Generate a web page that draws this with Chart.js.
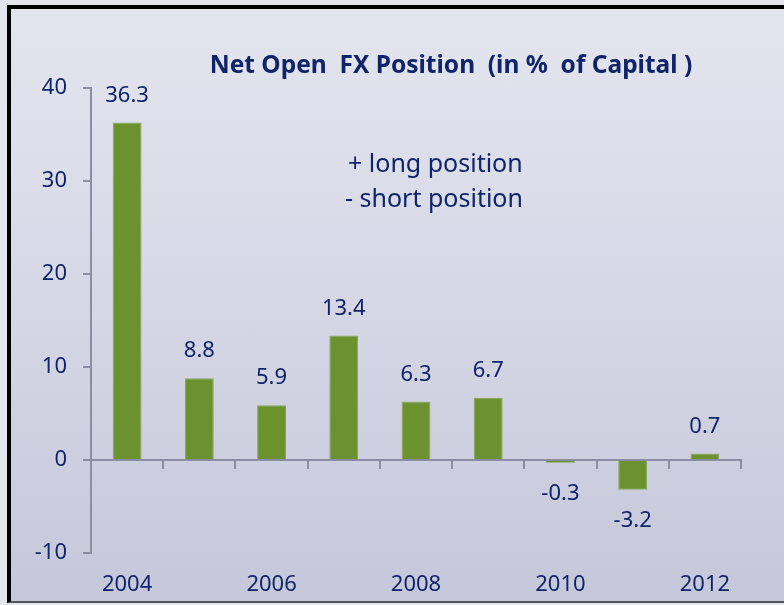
<!DOCTYPE html>
<html>
<head>
<meta charset="utf-8">
<script src="https://cdn.jsdelivr.net/npm/chart.js@4"></script>
<style>
  html, body { margin: 0; padding: 0; background: #e4e5ec; }
  #frame {
    position: absolute; left: 7px; top: 5px; width: 777px; height: 598px;
    border-left: 4px solid #000; border-top: 4px solid #000; border-bottom: 2px solid #555;
    background: linear-gradient(to bottom, #e3e5ee 0%, #d5d7e5 50%, #c5c8da 100%);
    box-sizing: border-box;
  }
  #myChart { position: absolute; left: 0; top: 0; }
</style>
</head>
<body>
<div id="frame"></div>
<canvas id="myChart" width="784" height="605"></canvas>
<script>
const years = ['2004', '2005', '2006', '2007', '2008', '2009', '2010', '2011', '2012'];
const fxPosition = [36.3, 8.8, 5.9, 13.4, 6.3, 6.7, -0.3, -3.2, 0.7];
const yTicks = [-10, 0, 10, 20, 30, 40];
const notes = ['+ long position', '- short position'];

const navy = '#10246a';
const axisGray = '#8b8da3';

// value labels over / under the bars, plus title and the note
const extras = {
    id: 'extras',
    afterDatasetsDraw(chart) {
        const c = chart.ctx;
        c.save();
        c.fillStyle = navy;
        c.textAlign = 'center';
        c.textBaseline = 'middle';
        c.font = '22px "Noto Sans"';
        chart.getDatasetMeta(0).data.forEach((bar, i) => {
            const v = fxPosition[i];
            const y = v >= 0 ? bar.y - 27 : bar.y + 31;
            c.fillText(v.toFixed(1), bar.x, y);
        });

        c.font = 'bold 24.5px "Noto Sans"';
        c.fillText('Net Open  FX Position  (in %  of Capital )', 451, 66);

        c.textAlign = 'left';
        c.font = '25px "Noto Sans"';
        c.fillText(notes[0], 348, 165);
        c.fillText(notes[1], 345, 200);
        c.restore();
    }
};

const ctx = document.getElementById('myChart').getContext('2d');

const myChart = new Chart(ctx, {
    type: 'bar',
    data: {
        labels: years,
        datasets: [{
            data: fxPosition,
            backgroundColor: '#6b922f',
            borderColor: '#86a856',
            borderWidth: 1,
            barPercentage: 0.4,
            categoryPercentage: 1,
            xAxisID: 'x',
            yAxisID: 'y'
        }]
    },
    options: {
        responsive: false,
        animation: false,
        layout: { padding: { top: 88, right: 43, left: 0, bottom: 0 } },
        plugins: {
            legend: { display: false },
            tooltip: { enabled: false },
            title: { display: false }
        },
        scales: {
            x: {
                type: 'category',
                position: { y: 0 },
                offset: true,
                grid: {
                    offset: true,
                    drawOnChartArea: false,
                    drawTicks: true,
                    tickLength: 8,
                    color: axisGray,
                    lineWidth: 2
                },
                border: { display: true, color: axisGray, width: 2 },
                ticks: { display: false }
            },
            x2: {
                type: 'category',
                position: 'bottom',
                offset: true,
                afterFit: (s) => { s.height = 52; },
                grid: { display: false, drawTicks: false },
                border: { display: false },
                ticks: {
                    autoSkip: false,
                    maxRotation: 0,
                    padding: 19,
                    color: navy,
                    font: { family: '"Noto Sans"', size: 22 },
                    callback: function (value, index) {
                        return index % 2 === 0 ? years[index] : '';
                    }
                }
            },
            y: {
                min: yTicks[0],
                max: yTicks[yTicks.length - 1],
                afterFit: (s) => { s.width = 91; },
                afterBuildTicks: (s) => { s.ticks = yTicks.map(v => ({ value: v })); },
                grid: {
                    drawOnChartArea: false,
                    drawTicks: true,
                    tickLength: 8,
                    color: axisGray,
                    lineWidth: 2
                },
                border: { display: true, color: axisGray, width: 2 },
                ticks: {
                    padding: 16,
                    color: navy,
                    font: { family: '"Noto Sans"', size: 22 }
                }
            }
        }
    },
    plugins: [extras]
});
</script>
</body>
</html>
